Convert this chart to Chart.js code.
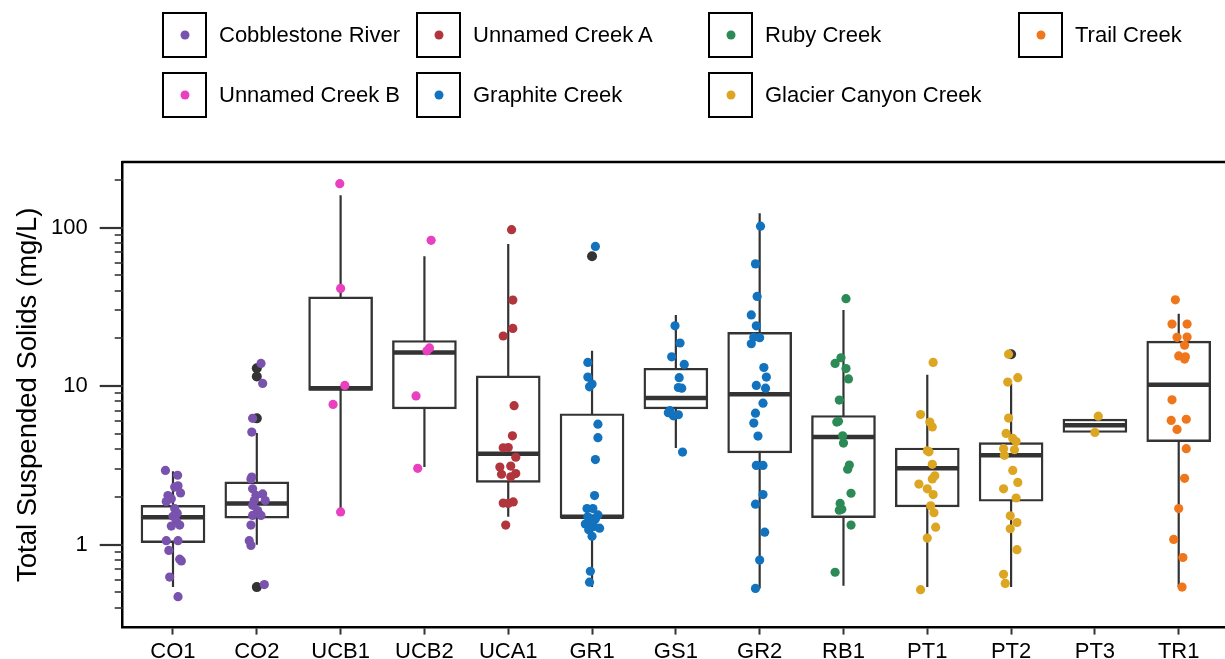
<!DOCTYPE html>
<html><head><meta charset="utf-8">
<script src="https://cdn.jsdelivr.net/npm/chart.js@4"></script>
<style>
html,body{margin:0;padding:0;width:1225px;height:659px;overflow:hidden;background:#fff;font-family:"Liberation Sans",Arial,sans-serif;}
#wrap{position:absolute;left:0;top:0;width:1234px;height:669px;}
#legend{position:absolute;left:0;top:0;width:1225px;height:130px;}
.item{position:absolute;height:46px;display:flex;align-items:center;}
.key{width:45px;height:46px;border:2px solid #000;box-sizing:border-box;position:relative;background:#fff;flex:none;}
.dot{position:absolute;width:9px;height:9px;border-radius:50%;left:50%;top:50%;transform:translate(-50%,-50%);}
.lab{margin-left:12px;font-size:22px;color:#000;white-space:nowrap;}
</style></head>
<body>
<div id="wrap"><canvas id="c" width="1234" height="669"></canvas></div>
<div id="legend"></div>
<script>
// ---------- data ----------
const sites = ['CO1','CO2','UCB1','UCB2','UCA1','GR1','GS1','GR2','RB1','PT1','PT2','PT3','TR1'];
const rivers = ['Cobblestone River','Unnamed Creek A','Ruby Creek','Trail Creek','Unnamed Creek B','Graphite Creek','Glacier Canyon Creek'];
const riverColors = ['#7852AC','#B1353D','#2C8A56','#F0761B','#E840BF','#1372BE','#DCA623'];
const siteRiver = [0,0,4,4,1,5,5,5,2,6,6,6,3];

const q1     = [1.03,1.47,9.4,7.18,2.47,1.47,7.18,3.79,1.48,1.73,1.88,5.1,4.47];
const median = [1.49,1.82,9.7,16.3,3.75,1.5,8.4,8.89,4.77,3.03,3.66,5.66,10.2];
const q3     = [1.77,2.49,36.5,19.4,11.6,6.69,12.96,21.8,6.53,4.07,4.4,6.19,19.2];
const whiskerLow  = [0.54,1.0,1.62,3.09,1.5,0.54,4.07,0.53,0.55,0.54,0.54,5.1,0.54];
const whiskerHigh = [2.9,5.06,160,65.9,78.6,16.7,28.1,123,30.2,11.8,10.4,6.19,28.6];

const outlierSite  = [1,1,1,1,5,10];
const outlierValue = [12.97,11.5,6.26,0.54,65.9,15.9];

// jittered samples: [horizontal jitter (category units), TSS mg/L]
const CO1_pts = [[-0.09,2.94],[0.055,2.74],[0.06,2.35],[0.02,2.31],[-0.06,2.04],[0.09,2.12],[-0.02,1.95],[-0.08,1.87],[0.02,1.69],[0.05,1.58],[0,1.51],[0.04,1.41],[0.08,1.33],[-0.02,1.31],[-0.08,1.06],[0.06,1.06],[-0.05,0.92],[0.08,0.81],[0.1,0.79],[-0.04,0.625],[0.06,0.47]];
const CO2_pts = [[0.05,13.9],[0.07,10.4],[-0.05,6.26],[-0.06,5.13],[-0.06,2.67],[-0.07,2.6],[-0.05,2.25],[0.07,2.09],[-0.01,2.05],[0.1,1.9],[-0.03,1.9],[-0.05,1.77],[0.01,1.64],[0.05,1.53],[-0.05,1.53],[-0.07,1.33],[-0.09,1.06],[-0.07,0.99],[0.09,0.56]];
const UCB1_pts = [[-0.01,189],[0,41.3],[0.05,10.1],[-0.09,7.67],[0,1.61]];
const UCB2_pts = [[0.08,83],[0.06,17.4],[0.03,16.7],[-0.1,8.67],[-0.08,3.03]];
const UCA1_pts = [[0.04,97],[0.055,34.9],[0.055,23.1],[-0.06,20.7],[0.07,7.53],[0.05,4.86],[0,4.1],[-0.06,4.08],[0.09,3.56],[-0.1,3.09],[0.03,3.13],[0.09,2.81],[-0.08,2.78],[0.03,2.68],[-0.06,1.83],[0.06,1.86],[0,1.82],[-0.03,1.33]];
const GR1_pts = [[0.04,76],[-0.05,14.1],[-0.05,11.4],[0,10.3],[-0.03,9.9],[0.07,5.75],[0.07,4.73],[0.04,3.44],[0.03,2.04],[-0.06,1.69],[0.01,1.69],[0.07,1.54],[0.04,1.45],[-0.05,1.5],[-0.08,1.35],[-0.01,1.37],[0.02,1.30],[0.09,1.27],[-0.04,1.24],[0,1.13],[-0.02,0.68],[-0.03,0.58]];
const GS1_pts = [[-0.01,24.0],[0.05,18.7],[-0.05,15.3],[0.1,13.7],[0.04,11.3],[0.03,9.8],[0.07,9.7],[-0.07,7.0],[-0.03,6.5],[0.03,6.6],[-0.09,6.8],[0.08,3.84]];
const GR2_pts = [[0.01,102],[-0.05,59],[-0.03,36.8],[-0.1,28.1],[-0.04,24.0],[-0.07,20.3],[0,20.2],[-0.1,18.5],[0.05,13.1],[0.08,11.4],[-0.04,10.1],[0.07,9.7],[0.04,7.8],[-0.05,6.75],[-0.07,5.85],[-0.02,4.84],[-0.04,3.16],[0.04,3.16],[0.04,2.07],[-0.05,1.80],[0.06,1.2],[0,0.80],[-0.05,0.53]];
const RB1_pts = [[0.03,35.6],[-0.03,15.1],[-0.1,13.9],[0.03,12.9],[0.06,11.1],[-0.05,8.17],[-0.08,5.93],[-0.06,6.0],[-0.01,4.86],[0,4.37],[0.07,3.18],[0.05,2.99],[0.09,2.11],[-0.04,1.82],[-0.02,1.67],[-0.05,1.65],[0.09,1.33],[-0.1,0.67]];
const PT1_pts = [[0.07,14.1],[-0.08,6.62],[0.03,5.93],[0.06,5.53],[0,3.91],[0.02,3.85],[0.06,3.21],[0.09,2.72],[0.06,2.6],[-0.1,2.41],[0,2.25],[0.07,2.07],[0.04,1.76],[0.08,1.59],[0.1,1.29],[0,1.10],[-0.08,0.52]];
const PT2_pts = [[-0.03,15.9],[0.08,11.3],[-0.04,10.6],[-0.03,6.29],[-0.06,5.03],[0.02,4.68],[0.06,4.47],[-0.09,4.03],[0.04,3.97],[-0.08,3.66],[0.02,2.94],[0.08,2.47],[-0.09,2.25],[0.06,1.97],[-0.01,1.52],[0.07,1.38],[-0.01,1.26],[0.07,0.93],[-0.09,0.65],[-0.07,0.57]];
const PT3_pts = [[0.04,6.46],[0,5.1]];
const TR1_pts = [[-0.04,35.0],[-0.08,24.6],[0.1,24.6],[-0.02,20.3],[0.1,20.4],[0.07,18.1],[0,15.5],[0.08,15.3],[0.07,14.8],[-0.08,8.2],[-0.09,6.08],[0.09,6.18],[-0.02,5.33],[0.09,4.03],[0.07,2.62],[0,1.69],[-0.06,1.08],[0.05,0.83],[0.04,0.54]];
const sitePoints = [CO1_pts,CO2_pts,UCB1_pts,UCB2_pts,UCA1_pts,GR1_pts,GS1_pts,GR2_pts,RB1_pts,PT1_pts,PT2_pts,PT3_pts,TR1_pts];

const yTickValues = [0.4,0.5,0.6,0.7,0.8,0.9,1,2,3,4,5,6,7,8,9,10,20,30,40,50,60,70,80,90,100,200];
const yMajorTicks = [1,10,100];
const yTitle = 'Total Suspended Solids (mg/L)';

// ---------- legend (HTML) ----------
const legCols = [162,416,708,1018];
const legRows = [12,72];
const legEl = document.getElementById('legend');
rivers.forEach((name,i)=>{
  const col = i % 4, row = Math.floor(i/4);
  const it = document.createElement('div');
  it.className = 'item';
  it.style.left = legCols[col]+'px';
  it.style.top = legRows[row]+'px';
  it.innerHTML = '<div class="key"><div class="dot" style="background:'+riverColors[i]+'"></div></div><span class="lab">'+name+'</span>';
  legEl.appendChild(it);
});

// ---------- datasets ----------
const BOXHALF = 0.374;
const whiskerData = [], medianData = [];
sites.forEach((s,i)=>{
  whiskerData.push({x:i,y:whiskerLow[i]},{x:i,y:whiskerHigh[i]},{x:i,y:null});
  medianData.push({x:i-BOXHALF,y:median[i]},{x:i+BOXHALF,y:median[i]},{x:i,y:null});
});
const boxData = sites.map((s,i)=>({x:i,y:[q1[i],q3[i]]}));
const outlierData = outlierSite.map((s,k)=>({x:s,y:outlierValue[k]}));

const pointSets = rivers.map((name,r)=>{
  const data = [];
  sitePoints.forEach((pts,i)=>{ if (siteRiver[i]===r) pts.forEach(p=>data.push({x:i+p[0],y:p[1]})); });
  return {type:'scatter',label:name,data,backgroundColor:riverColors[r],borderWidth:0,pointRadius:4.6,pointHoverRadius:4.6,order:0};
});

const INK = '#333333';
const datasets = [
  {type:'line',label:'whiskers',data:whiskerData,borderColor:INK,borderWidth:2.2,pointRadius:0,spanGaps:false,fill:false,order:5},
  {type:'bar',label:'box',data:boxData,backgroundColor:'#ffffff',borderColor:INK,borderWidth:2.4,borderSkipped:false,barThickness:64,order:4},
  {type:'line',label:'median',data:medianData,borderColor:INK,borderWidth:4.5,borderCapStyle:'butt',pointRadius:0,spanGaps:false,fill:false,order:3},
  {type:'scatter',label:'outliers',data:outlierData,backgroundColor:INK,borderWidth:0,pointRadius:5,order:2},
  ...pointSets
];

// y tick marks (minor short, major long) and top frame line, placed with the y scale
const frame = {
  id:'frame',
  afterDraw(chart){
    const {ctx, chartArea:a, scales:{y}} = chart;
    ctx.save();
    ctx.strokeStyle = '#000';
    ctx.lineWidth = 2.5;
    ctx.beginPath(); ctx.moveTo(a.left-1, a.top); ctx.lineTo(a.right, a.top); ctx.stroke();
    ctx.strokeStyle = INK;
    yTickValues.forEach(v=>{
      const py = Math.round(y.getPixelForValue(v));
      const major = yMajorTicks.includes(v);
      ctx.lineWidth = major ? 2.2 : 1.6;
      ctx.beginPath(); ctx.moveTo(a.left-(major?23:8), py); ctx.lineTo(a.left, py); ctx.stroke();
    });
    ctx.restore();
  }
};

const FONT = '"Liberation Sans", Arial, sans-serif';
new Chart(document.getElementById('c'), {
  type:'bar',
  data:{datasets},
  options:{
    responsive:false, animation:false, devicePixelRatio:1, events:[],
    layout:{padding:{top:162,left:0,right:0,bottom:0}},
    plugins:{legend:{display:false},tooltip:{enabled:false}},
    scales:{
      x:{type:'linear',min:-0.6,max:12.6,offset:false,
        afterBuildTicks:(s)=>{s.ticks = sites.map((_,i)=>({value:i}));},
        grid:{drawOnChartArea:false,offset:false,tickLength:7,tickColor:INK,tickWidth:2},
        border:{display:true,color:'#000',width:2.5},
        ticks:{autoSkip:false,maxRotation:0,padding:4,color:'#000',font:{family:FONT,size:22},callback:(v)=>sites[v]}
      },
      y:{type:'logarithmic',min:0.344,max:259,position:'left',
        afterBuildTicks:(s)=>{s.ticks = yTickValues.map(v=>({value:v}));},
        grid:{drawOnChartArea:false,tickLength:35,tickColor:'rgba(0,0,0,0)'},
        border:{display:true,color:'#000',width:2.5},
        ticks:{autoSkip:false,padding:0,color:'#000',font:{family:FONT,size:22},callback:(v)=> yMajorTicks.includes(v) ? String(v) : ''},
        title:{display:true,text:yTitle,color:'#000',font:{family:FONT,size:27.5},padding:{top:12,bottom:6}}
      }
    }
  },
  plugins:[frame]
});
</script>
</body></html>
